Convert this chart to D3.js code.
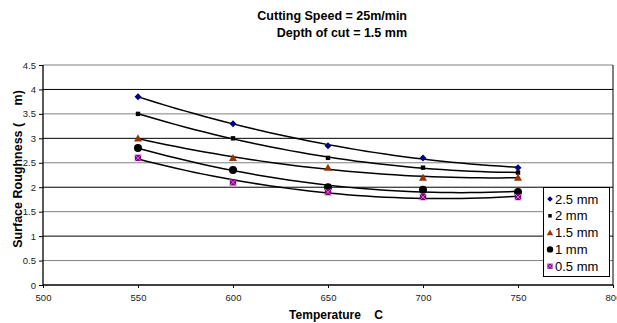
<!DOCTYPE html>
<html><head><meta charset="utf-8">
<script src="https://cdn.jsdelivr.net/npm/d3@7"></script>
<style>body{margin:0;background:#fff}svg{display:block;font-family:Arial,"Liberation Sans",sans-serif}</style>
</head><body><svg id="c" width="617" height="323"></svg>
<script>
const temps = [550, 600, 650, 700, 750];
const s25 = [3.85, 3.3, 2.85, 2.6, 2.4];
const s20 = [3.5, 3.0, 2.6, 2.4, 2.3];
const s15 = [3.0, 2.6, 2.4, 2.2, 2.2];
const s10 = [2.8, 2.35, 2.0, 1.95, 1.9];
const s05 = [2.6, 2.1, 1.9, 1.8, 1.8];
const seriesNames = ["2.5 mm", "2 mm", "1.5 mm", "1 mm", "0.5 mm"];
const xTicks = [500, 550, 600, 650, 700, 750, 800];
const yTicks = [0, 0.5, 1, 1.5, 2, 2.5, 3, 3.5, 4, 4.5];

const series = [
  {name: seriesNames[0], vals: s25, color: "#000080", shape: "diamond"},
  {name: seriesNames[1], vals: s20, color: "#000000", shape: "square"},
  {name: seriesNames[2], vals: s15, color: "#993300", shape: "triangle"},
  {name: seriesNames[3], vals: s10, color: "#000000", shape: "circle"},
  {name: seriesNames[4], vals: s05, color: "#800080", shape: "xsquare"}
];

const svg = d3.select("#c");
const L = 43, R = 613, T = 65, B = 285;
const x = d3.scaleLinear().domain([500, 800]).range([L, R]);
const y = d3.scaleLinear().domain([0, 4.5]).range([B, T]);

// gridlines
svg.append("g").selectAll("line").data(yTicks.filter(d => d > 0)).join("line")
  .attr("x1", L).attr("x2", R).attr("y1", d => y(d)).attr("y2", d => y(d))
  .attr("stroke", d => (Math.round(d * 2) % 2 === 1) ? "#808080" : "#000")
  .attr("stroke-width", 1);
// right border
svg.append("line").attr("x1", R).attr("x2", R).attr("y1", T).attr("y2", B).attr("stroke", "#000");

// axes
const yAxis = d3.axisLeft(y).tickValues(yTicks).tickSize(4).tickPadding(3).tickFormat(d => d3.format("")(d));
const gy = svg.append("g").attr("transform", `translate(${L},0)`).call(yAxis);
const xAxis = d3.axisBottom(x).tickValues(xTicks).tickSize(3).tickPadding(6);
const gx = svg.append("g").attr("transform", `translate(0,${B})`).call(xAxis);
[gx, gy].forEach(g => {
  g.select(".domain").attr("stroke", "#000").attr("stroke-width", 1.3);
  g.selectAll(".tick line").attr("stroke", "#000");
  g.selectAll("text").attr("font-size", 9.5).attr("fill", "#222").attr("font-family", "Arial, 'Liberation Sans', sans-serif");
});
gy.select(".domain").attr("d", `M0,${B}V${T}`);
gx.select(".domain").attr("d", `M${L},0H${R}`);

// quadratic least-squares trendline
function quadFit(xs, ys) {
  const n = xs.length, xm = d3.mean(xs);
  const u = xs.map(v => (v - xm) / 100);
  let S = [[0,0,0],[0,0,0],[0,0,0]], b = [0,0,0];
  for (let i = 0; i < n; i++) {
    const p = [1, u[i], u[i]*u[i]];
    for (let r = 0; r < 3; r++) { b[r] += p[r]*ys[i]; for (let c = 0; c < 3; c++) S[r][c] += p[r]*p[c]; }
  }
  for (let k = 0; k < 3; k++) {
    for (let r = k+1; r < 3; r++) {
      const f = S[r][k]/S[k][k];
      for (let c = k; c < 3; c++) S[r][c] -= f*S[k][c];
      b[r] -= f*b[k];
    }
  }
  const a = [0,0,0];
  for (let r = 2; r >= 0; r--) {
    let s = b[r];
    for (let c = r+1; c < 3; c++) s -= S[r][c]*a[c];
    a[r] = s / S[r][r];
  }
  return v => { const t = (v - xm)/100; return a[0] + a[1]*t + a[2]*t*t; };
}

const line = d3.line().x(d => x(d[0])).y(d => y(d[1]));
series.forEach(s => {
  const f = quadFit(temps, s.vals);
  const pts = d3.range(550, 750.01, 5).map(v => [v, f(v)]);
  svg.append("path").attr("d", line(pts)).attr("fill", "none").attr("stroke", "#000").attr("stroke-width", 1.5);
});

function drawMarker(g, shape, color, cx, cy, scale) {
  scale = scale || 1;
  if (shape === "diamond") {
    const r = 3.5*scale;
    g.append("path").attr("d", `M${cx},${cy-r}L${cx+r},${cy}L${cx},${cy+r}L${cx-r},${cy}Z`).attr("fill", color);
  } else if (shape === "square") {
    const r = 2.2*scale;
    g.append("rect").attr("x", cx-r).attr("y", cy-r).attr("width", 2*r).attr("height", 2*r).attr("fill", color);
  } else if (shape === "triangle") {
    const r = 4*scale;
    g.append("path").attr("d", `M${cx},${cy-r}L${cx+r},${cy+r*0.8}L${cx-r},${cy+r*0.8}Z`).attr("fill", color);
  } else if (shape === "circle") {
    g.append("circle").attr("cx", cx).attr("cy", cy).attr("r", 4*scale).attr("fill", color);
  } else if (shape === "xsquare") {
    const r = 3.2*scale;
    g.append("rect").attr("x", cx-r).attr("y", cy-r).attr("width", 2*r).attr("height", 2*r).attr("fill", color);
    g.append("path").attr("d", `M${cx-r},${cy-r}L${cx+r},${cy+r}M${cx+r},${cy-r}L${cx-r},${cy+r}`).attr("stroke", "#e070e0").attr("stroke-width", 0.9);
  }
}

series.forEach(s => {
  const g = svg.append("g");
  temps.forEach((t, i) => drawMarker(g, s.shape, s.color, x(t), y(s.vals[i])));
});

// legend
const lg = svg.append("g");
lg.append("rect").attr("x", 543.5).attr("y", 187.5).attr("width", 66).attr("height", 89).attr("fill", "#fff").attr("stroke", "#000").attr("stroke-width", 1);
series.forEach((s, i) => {
  const cy = 199 + i*16.8;
  drawMarker(lg, s.shape, s.color, 550, cy, 0.8);
  lg.append("text").attr("x", 555).attr("y", cy + 4.5).attr("font-size", 13).attr("fill", "#000").text(s.name);
});

// titles
svg.append("text").attr("x", 407).attr("y", 20).attr("text-anchor", "end").attr("font-size", 12.5).attr("font-weight", "bold").text("Cutting Speed = 25m/min");
svg.append("text").attr("x", 407).attr("y", 37).attr("text-anchor", "end").attr("font-size", 12.5).attr("font-weight", "bold").text("Depth of cut = 1.5 mm");
svg.append("text").attr("transform", "translate(22,169) rotate(-90)").attr("text-anchor", "middle").attr("font-size", 12.5).attr("font-weight", "bold").attr("xml:space", "preserve").text("Surface Roughness (     m)");
svg.append("text").attr("x", 336).attr("y", 319).attr("text-anchor", "middle").attr("font-size", 12).attr("font-weight", "bold").attr("xml:space", "preserve").text("Temperature    C");
</script></body></html>
